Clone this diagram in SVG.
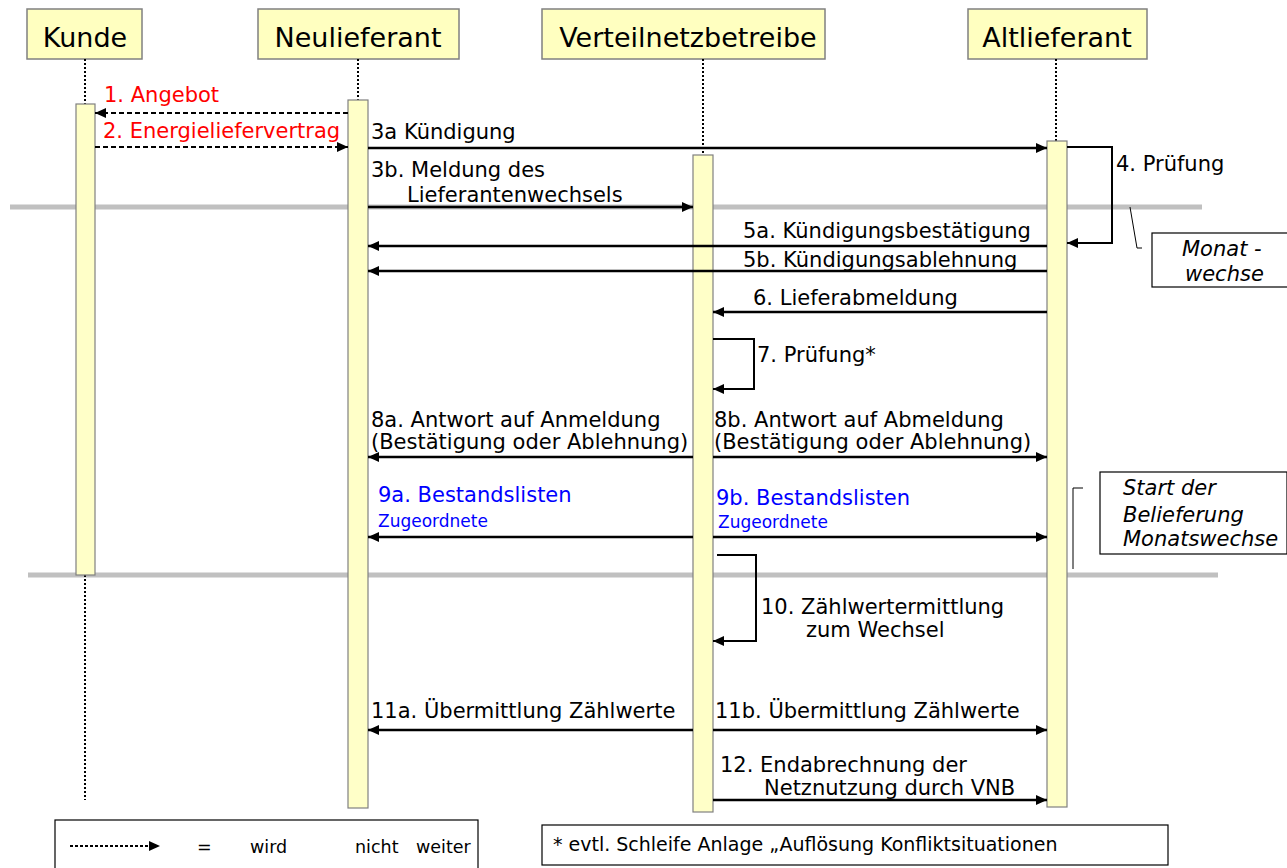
<svg xmlns="http://www.w3.org/2000/svg" width="1287" height="868" viewBox="0 0 1287 868">
<style>
.hdr{fill:#FFFFC0;stroke:#808080;stroke-width:1.5}
.htx{font-family:"DejaVu Sans",sans-serif;font-size:27px;fill:#000;text-anchor:middle}
.act{fill:#FFFFC8;stroke:#808080;stroke-width:1.2}
.life{stroke:#000;stroke-width:2;stroke-dasharray:2,2;fill:none}
.sep{stroke:#C0C0C0;stroke-width:5;fill:none}
.msg{stroke:#000;stroke-width:2.5;fill:none;marker-end:url(#ah)}
.dash{stroke:#000;stroke-width:2;stroke-dasharray:5,3;fill:none;marker-end:url(#ah)}
.loop{stroke:#000;stroke-width:2;fill:none;marker-end:url(#ah)}
.lbl{font-family:"DejaVu Sans",sans-serif;font-size:21px;fill:#000}
.red{fill:#FF0000}
.blue{fill:#0000FF}
.sm{font-size:17px}
.note{font-family:"DejaVu Sans",sans-serif;font-size:21px;font-style:italic;fill:#000}
.box{fill:#fff;stroke:#000;stroke-width:1.2}
.thin{stroke:#000;stroke-width:1;fill:none}
.leg{font-family:"DejaVu Sans",sans-serif;font-size:19px;fill:#000}
.leg2{font-family:"DejaVu Sans",sans-serif;font-size:17.5px;fill:#000}
</style>
<defs>
<marker id="ah" markerUnits="userSpaceOnUse" markerWidth="12" markerHeight="10" refX="11" refY="5" orient="auto">
<path d="M0,0 L11,5 L0,10 z" fill="#000"/>
</marker>
</defs>

<g id="separators">
<line class="sep" x1="10" y1="207" x2="1202" y2="207"/>
<line class="sep" x1="28" y1="575" x2="1218" y2="575"/>
</g>

<g id="kunde">
<rect class="hdr" x="27" y="9" width="115" height="50"/>
<text class="htx" x="85" y="47">Kunde</text>
<line class="life" x1="85" y1="59" x2="85" y2="104"/>
<line class="life" x1="85" y1="575" x2="85" y2="800"/>
<rect class="act" x="76" y="104" width="19" height="471"/>
</g>

<g id="neulieferant">
<rect class="hdr" x="258" y="9" width="201" height="50"/>
<text class="htx" x="358" y="47">Neulieferant</text>
<line class="life" x1="358" y1="59" x2="358" y2="100"/>
<rect class="act" x="348" y="100" width="20" height="708"/>
</g>

<g id="verteilnetzbetreiber">
<rect class="hdr" x="542" y="9" width="283" height="50"/>
<text class="htx" x="688" y="47">Verteilnetzbetreibe</text>
<line class="life" x1="703" y1="59" x2="703" y2="155"/>
<rect class="act" x="693" y="155" width="20" height="657"/>
</g>

<g id="altlieferant">
<rect class="hdr" x="968" y="9" width="179" height="50"/>
<text class="htx" x="1057" y="47">Altlieferant</text>
<line class="life" x1="1056" y1="59" x2="1056" y2="141"/>
<rect class="act" x="1047" y="141" width="20" height="666"/>
</g>

<g id="connectors">
<line class="dash" x1="348" y1="113" x2="95" y2="113"/>
<line class="dash" x1="95" y1="147" x2="348" y2="147"/>
<line class="msg" x1="368" y1="148" x2="1047" y2="148"/>
<line class="msg" x1="368" y1="207" x2="693" y2="207"/>
<path class="loop" d="M1067,147 H1112 V243 H1067"/>
<line class="msg" x1="1047" y1="246" x2="368" y2="246"/>
<line class="msg" x1="1047" y1="271" x2="368" y2="271"/>
<line class="msg" x1="1047" y1="312" x2="713" y2="312"/>
<path class="loop" d="M713,339 H754 V389 H713"/>
<line class="msg" x1="693" y1="457" x2="368" y2="457"/>
<line class="msg" x1="713" y1="457" x2="1047" y2="457"/>
<line class="msg" x1="693" y1="537" x2="368" y2="537"/>
<line class="msg" x1="713" y1="537" x2="1047" y2="537"/>
<path class="loop" d="M717,555 H756 V641 H713"/>
<line class="msg" x1="693" y1="730" x2="368" y2="730"/>
<line class="msg" x1="713" y1="730" x2="1047" y2="730"/>
<line class="msg" x1="713" y1="800" x2="1047" y2="800"/>
</g>

<g id="labels">
<text class="lbl red" x="104" y="102">1. Angebot</text>
<text class="lbl red" x="103" y="138">2. Energieliefervertrag</text>
<text class="lbl" x="371" y="139">3a Kündigung</text>
<text class="lbl" x="371" y="177">3b. Meldung des</text>
<text class="lbl" x="407" y="202">Lieferantenwechsels</text>
<text class="lbl" x="1116" y="171">4. Prüfung</text>
<text class="lbl" x="743" y="238">5a. Kündigungsbestätigung</text>
<text class="lbl" x="743" y="267">5b. Kündigungsablehnung</text>
<text class="lbl" x="753" y="305">6. Lieferabmeldung</text>
<text class="lbl" x="757" y="362">7. Prüfung*</text>
<text class="lbl" x="371" y="427">8a. Antwort auf Anmeldung</text>
<text class="lbl" x="371" y="449">(Bestätigung oder Ablehnung)</text>
<text class="lbl" x="714" y="427">8b. Antwort auf Abmeldung</text>
<text class="lbl" x="714" y="449">(Bestätigung oder Ablehnung)</text>
<text class="lbl blue" x="378" y="502">9a. Bestandslisten</text>
<text class="lbl blue sm" x="378" y="527">Zugeordnete</text>
<text class="lbl blue" x="716" y="505">9b. Bestandslisten</text>
<text class="lbl blue sm" x="718" y="528">Zugeordnete</text>
<text class="lbl" x="761" y="614">10. Zählwertermittlung</text>
<text class="lbl" x="806" y="637">zum Wechsel</text>
<text class="lbl" x="371" y="718">11a. Übermittlung Zählwerte</text>
<text class="lbl" x="715" y="718">11b. Übermittlung Zählwerte</text>
<text class="lbl" x="720" y="772">12. Endabrechnung der</text>
<text class="lbl" x="764" y="795">Netznutzung durch VNB</text>
</g>

<g id="note-monatswechsel">
<polyline class="thin" points="1130,207 1137,248 1142,248"/>
<rect class="box" x="1152" y="233" width="140" height="54"/>
<text class="note" x="1182" y="256">Monat  -</text>
<text class="note" x="1185" y="281">wechse</text>
</g>

<g id="note-start">
<polyline class="thin" points="1083,488 1073,488 1073,569"/>
<rect class="box" x="1100" y="472" width="187" height="82"/>
<text class="note" x="1123" y="495">Start der</text>
<text class="note" x="1123" y="522">Belieferung</text>
<text class="note" x="1123" y="546">Monatswechse</text>
</g>

<g id="legend">
<rect class="box" x="55" y="820" width="423" height="55"/>
<line x1="70" y1="846" x2="160" y2="846" stroke="#000" stroke-width="2" stroke-dasharray="3,2" marker-end="url(#ah)"/>
<text class="leg2" x="197" y="853">=</text>
<text class="leg2" x="250" y="853">wird</text>
<text class="leg2" x="355" y="853">nicht</text>
<text class="leg2" x="416" y="853">weiter</text>
</g>

<g id="footnote">
<rect class="box" x="542" y="825" width="626" height="40"/>
<text class="leg" x="553" y="851">* evtl. Schleife Anlage „Auflösung Konfliktsituationen</text>
</g>
</svg>
